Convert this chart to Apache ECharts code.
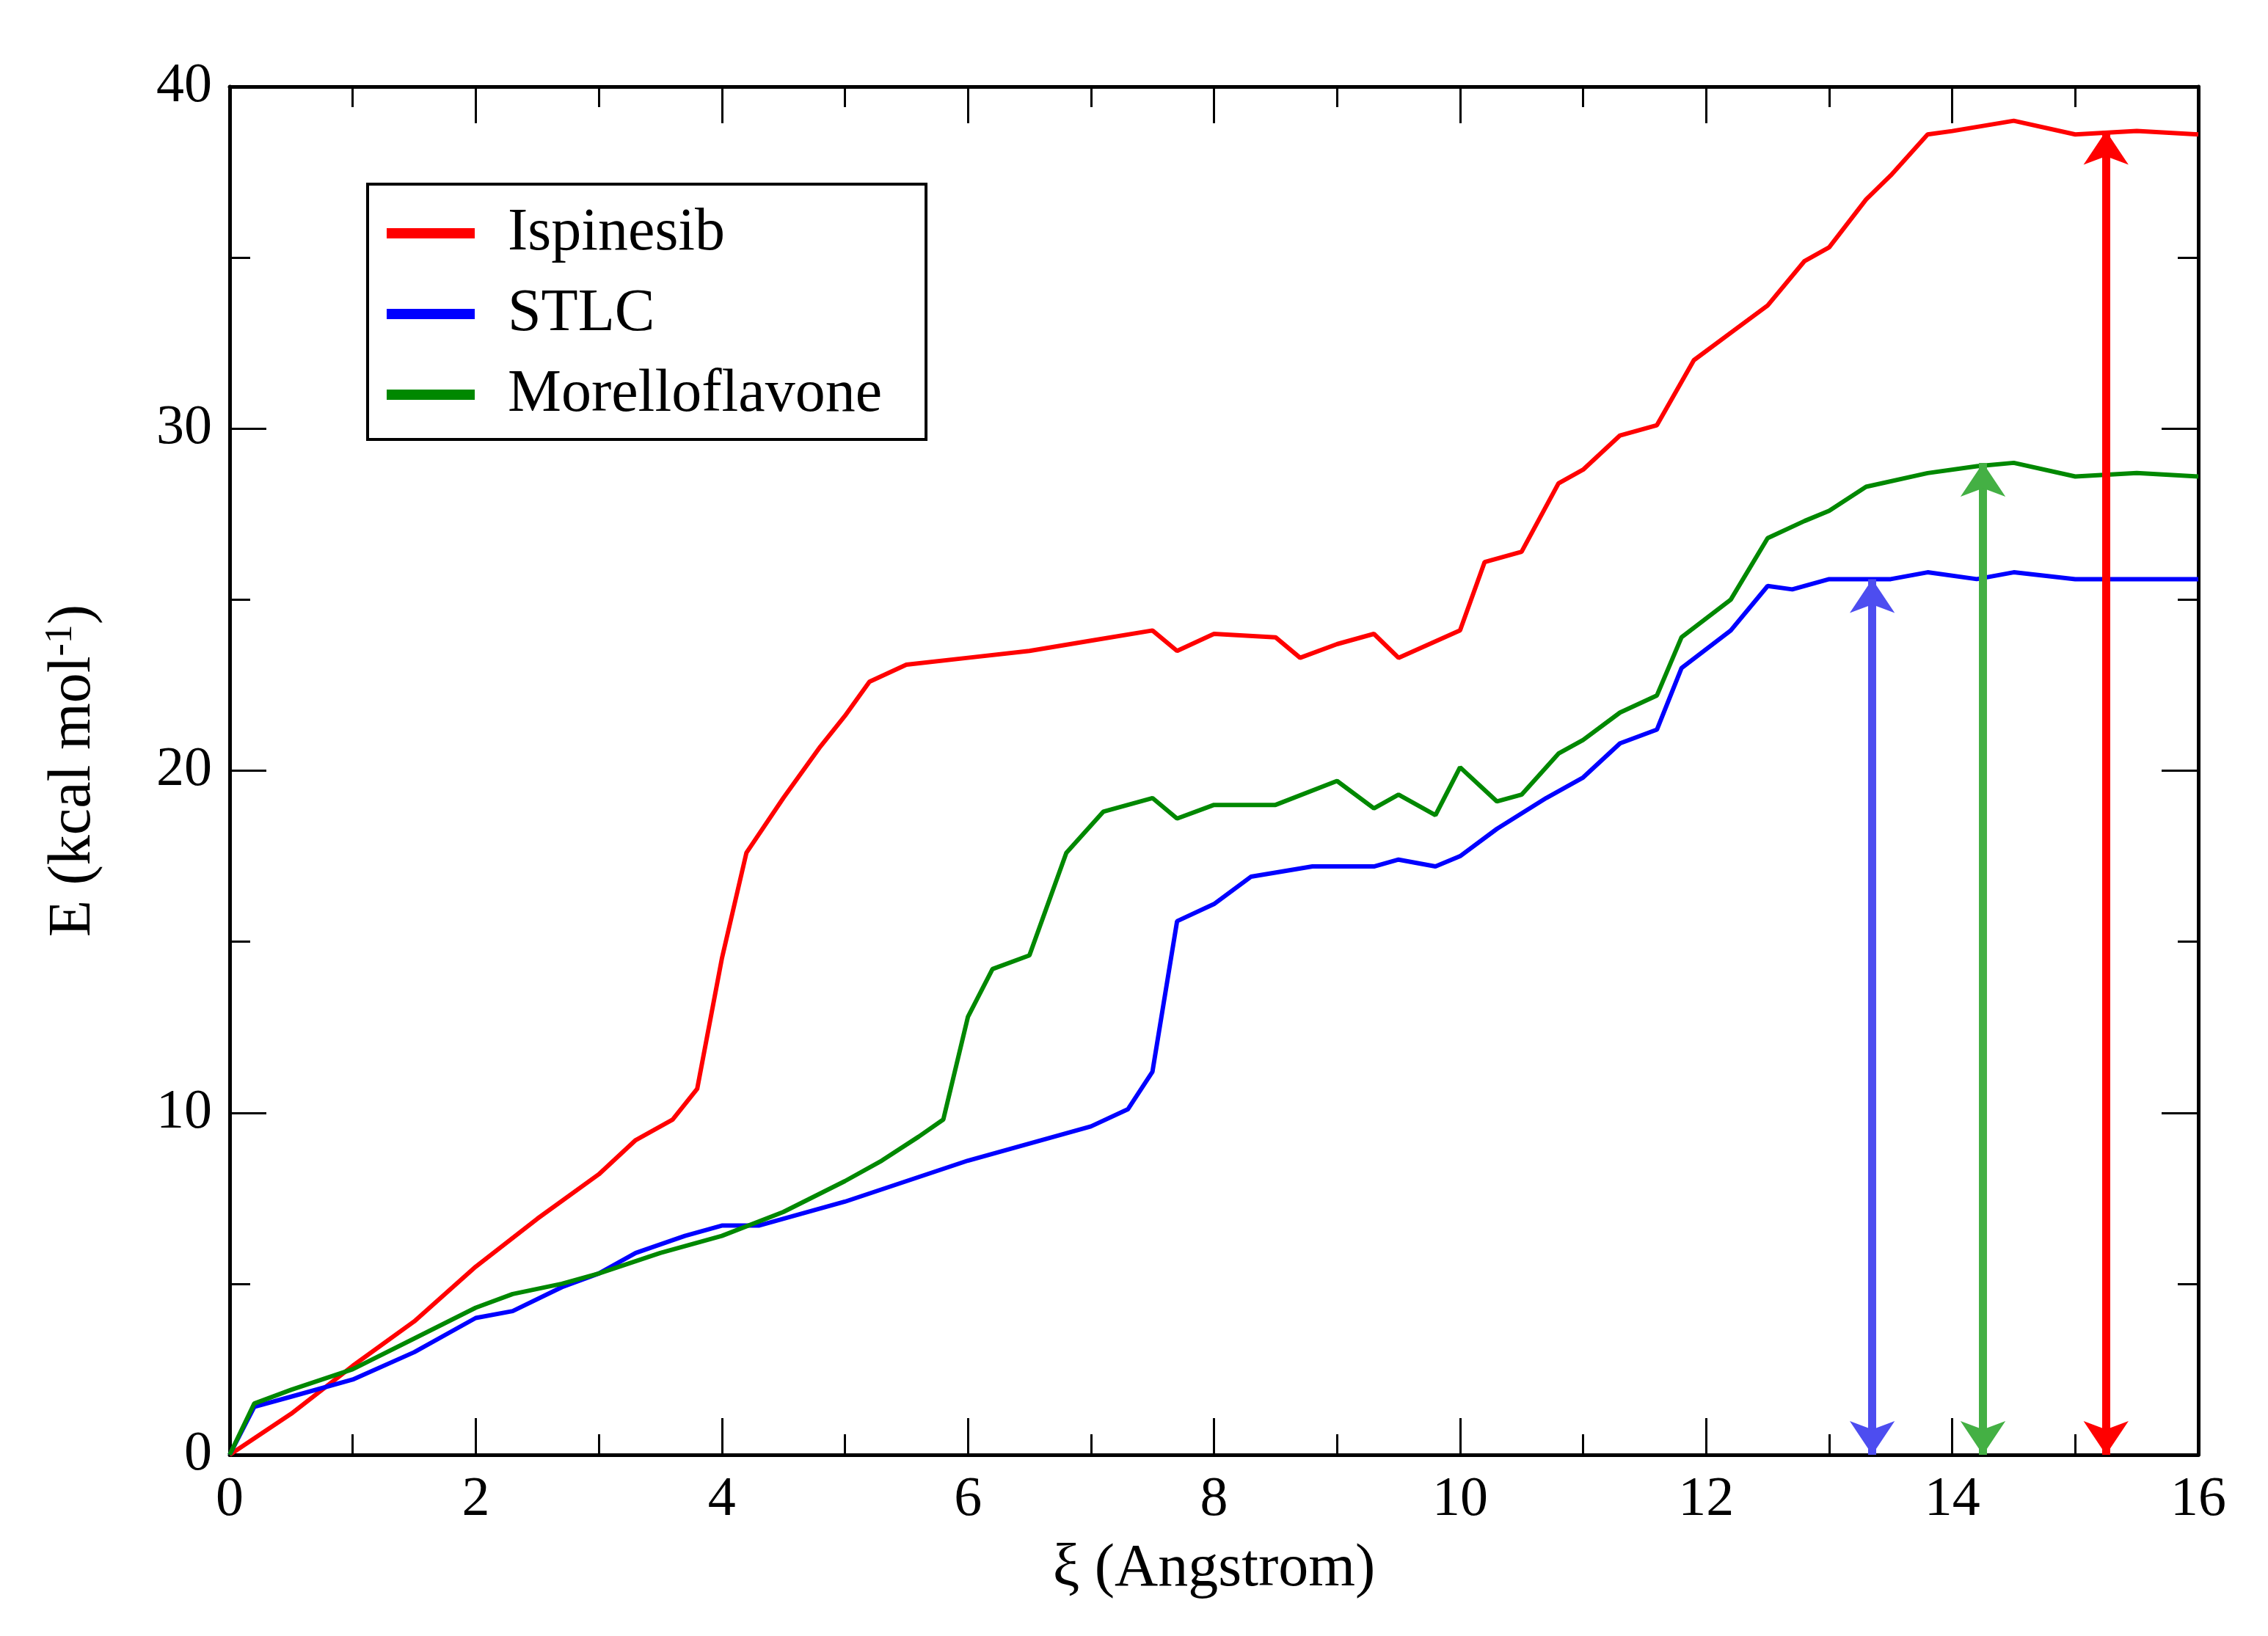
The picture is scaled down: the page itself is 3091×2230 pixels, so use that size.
<!DOCTYPE html>
<html><head><meta charset="utf-8">
<script src="https://cdn.jsdelivr.net/npm/echarts@6/dist/echarts.min.js"></script>
<style>html,body{margin:0;padding:0;background:#fff}#c{width:3091px;height:2230px}</style>
</head><body><div id="c"></div>
<script>
const ispinesib = [[0,0],[0.5,1.2],[1,2.6],[1.5,3.9],[2,5.5],[2.5,6.9],[3,8.2],[3.3,9.2],[3.6,9.8],[3.8,10.7],[4,14.5],[4.2,17.6],[4.5,19.2],[4.8,20.7],[5,21.6],[5.2,22.6],[5.5,23.1],[6,23.3],[6.5,23.5],[7,23.8],[7.5,24.1],[7.7,23.5],[8,24.0],[8.5,23.9],[8.7,23.3],[9,23.7],[9.3,24.0],[9.5,23.3],[10,24.1],[10.2,26.1],[10.5,26.4],[10.8,28.4],[11,28.8],[11.3,29.8],[11.6,30.1],[11.9,32],[12.2,32.8],[12.5,33.6],[12.8,34.9],[13,35.3],[13.3,36.7],[13.5,37.4],[13.8,38.6],[14,38.7],[14.5,39.0],[15,38.6],[15.5,38.7],[16,38.6]];
const stlc = [[0,0],[0.2,1.4],[0.5,1.7],[1,2.2],[1.5,3.0],[2,4.0],[2.3,4.2],[2.7,4.9],[3,5.3],[3.3,5.9],[3.7,6.4],[4,6.7],[4.3,6.7],[5,7.4],[6,8.6],[7,9.6],[7.3,10.1],[7.5,11.2],[7.7,15.6],[8,16.1],[8.3,16.9],[8.8,17.2],[9.3,17.2],[9.5,17.4],[9.8,17.2],[10,17.5],[10.3,18.3],[10.7,19.2],[11,19.8],[11.3,20.8],[11.6,21.2],[11.8,23],[12.2,24.1],[12.5,25.4],[12.7,25.3],[13,25.6],[13.5,25.6],[13.8,25.8],[14.2,25.6],[14.5,25.8],[15,25.6],[16,25.6]];
const morelloflavone = [[0,0],[0.2,1.5],[0.5,1.9],[1,2.5],[1.5,3.4],[2,4.3],[2.3,4.7],[2.7,5.0],[3,5.3],[3.5,5.9],[4,6.4],[4.5,7.1],[5,8.0],[5.3,8.6],[5.6,9.3],[5.8,9.8],[6,12.8],[6.2,14.2],[6.5,14.6],[6.8,17.6],[7.1,18.8],[7.5,19.2],[7.7,18.6],[8,19.0],[8.5,19.0],[9,19.7],[9.3,18.9],[9.5,19.3],[9.8,18.7],[10,20.1],[10.3,19.1],[10.5,19.3],[10.8,20.5],[11,20.9],[11.3,21.7],[11.6,22.2],[11.8,23.9],[12.2,25.0],[12.5,26.8],[12.8,27.3],[13,27.6],[13.3,28.3],[13.8,28.7],[14.2,28.9],[14.5,29.0],[15,28.6],[15.5,28.7],[16,28.6]];
const arrows = [
  {x:13.35, top:25.6, color:'#4d4df0'},
  {x:14.25, top:29.0, color:'#44b044'},
  {x:15.25, top:38.7, color:'#ff0000'}
];
const F = '"Liberation Serif", "DejaVu Serif", serif';
const tickCommon = (len)=>({show:true, inside:true, length:len, lineStyle:{color:'#000',width:3}});
const xBase = {type:'value', min:0, max:16, interval:2, axisLine:{show:true,onZero:false,lineStyle:{color:'#000',width:5}},
  axisTick:tickCommon(50), minorTick:{show:true,splitNumber:2,length:28,lineStyle:{color:'#000',width:3}}, splitLine:{show:false}};
const yBase = {type:'value', min:0, max:40, interval:10, axisLine:{show:true,onZero:false,lineStyle:{color:'#000',width:5}},
  axisTick:tickCommon(50), minorTick:{show:true,splitNumber:2,length:28,lineStyle:{color:'#000',width:3}}, splitLine:{show:false}};
const chart = echarts.init(document.getElementById('c'));
chart.setOption({
  backgroundColor:'#fff',
  animation:false,
  grid:{left:313,right:95,top:118,bottom:247},
  legend:{orient:'vertical', left:501, top:251, padding:[26,60,20,26],
    borderColor:'#000', borderWidth:4, itemWidth:120, itemHeight:14, itemGap:28,
    icon:'rect', textStyle:{fontFamily:F, fontSize:82, color:'#000', padding:[0,0,0,40]},
    data:['Ispinesib','STLC','Morelloflavone']},
  xAxis:[
    Object.assign({}, xBase, {position:'bottom', name:'ξ (Angstrom)', nameLocation:'middle', nameGap:115,
      nameTextStyle:{fontFamily:F,fontSize:82,color:'#000'},
      axisLabel:{fontFamily:F,fontSize:76,color:'#000',margin:24}}),
    Object.assign({}, xBase, {position:'top', axisLabel:{show:false}})
  ],
  yAxis:[
    Object.assign({}, yBase, {position:'left', name:'{a|E (kcal mol}{s|-1}{a|)}', nameLocation:'middle', nameGap:170, nameRotate:90,
      nameTextStyle:{rich:{a:{fontFamily:F,fontSize:82,color:'#000'},s:{fontFamily:F,fontSize:52,color:'#000',verticalAlign:'top',padding:[0,0,34,0]}}},
      axisLabel:{fontFamily:F,fontSize:76,color:'#000',margin:24}}),
    Object.assign({}, yBase, {position:'right', axisLabel:{show:false}})
  ],
  series:[
    {name:'Ispinesib',type:'line',data:ispinesib,showSymbol:false,color:'#ff0000',lineStyle:{width:6}},
    {name:'STLC',type:'line',data:stlc,showSymbol:false,color:'#0000ff',lineStyle:{width:6}},
    {name:'Morelloflavone',type:'line',data:morelloflavone,showSymbol:false,color:'#008800',lineStyle:{width:6}},
    {type:'lines',coordinateSystem:'cartesian2d',symbol:['arrow','arrow'],symbolSize:46,silent:true,z:5,
      data:arrows.map(a=>({coords:[[a.x,0],[a.x,a.top]],lineStyle:{color:a.color,width:11,opacity:1}}))}
  ]
});
</script></body></html>
